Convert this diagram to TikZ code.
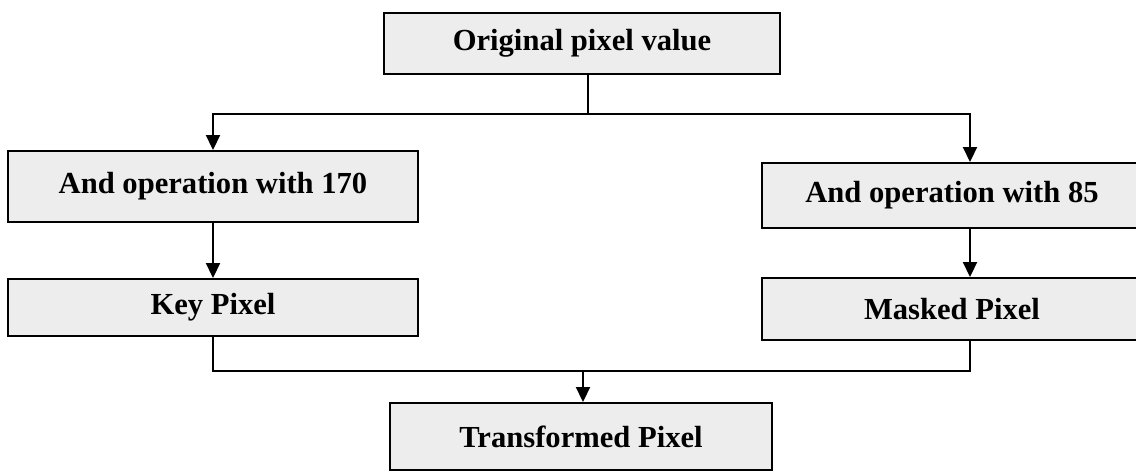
\documentclass[tikz,border=0pt]{standalone}
\usepackage{fontspec}
\setmainfont{Liberation Serif}
\usetikzlibrary{arrows.meta}
\begin{document}
\begin{tikzpicture}[x=0.5pt,y=-0.5pt,
  box/.style={draw=black, line width=1pt, fill=black!7, inner sep=0pt,
    font=\fontsize{15.3}{18}\selectfont\bfseries, text=black},
  link/.style={draw=black, line width=1.1pt},
  arr/.style={link, -{Triangle[length=7.5pt,width=7pt]}}]
\useasboundingbox (0,0) rectangle (1136,472);
\node[box, minimum width=198pt, minimum height=30.5pt] (orig) at (582,43.5) {Original pixel value};
\node[box, minimum width=205pt, minimum height=35.5pt] (a170) at (213,186.5) {And operation with 170};
\node[box, minimum width=190pt, minimum height=32.5pt] (a85) at (952,195.5) {And operation with 85};
\node[box, minimum width=205pt, minimum height=28.5pt] (key) at (213,307.5) {Key Pixel};
\node[box, minimum width=190pt, minimum height=31pt] (masked) at (952,309) {Masked Pixel};
\node[box, minimum width=191pt, minimum height=33.5pt] (trans) at (581,436.5) {Transformed Pixel};
\coordinate (ox) at (588,0);
\coordinate (rx) at (970,0);
\coordinate (split) at (588,114);
\coordinate (merge) at (583,371);
\draw[link] (orig.south -| ox) -- (split);
\draw[arr] (split) -| (a170.north);
\draw[arr] (split) -| (a85.north -| rx);
\draw[arr] (a170.south) -- (key.north);
\draw[arr] (a85.south -| rx) -- (masked.north -| rx);
\draw[link] (key.south) |- (merge) -| (masked.south -| rx);
\draw[arr] (merge) -- (trans.north -| merge);
\end{tikzpicture}
\end{document}
